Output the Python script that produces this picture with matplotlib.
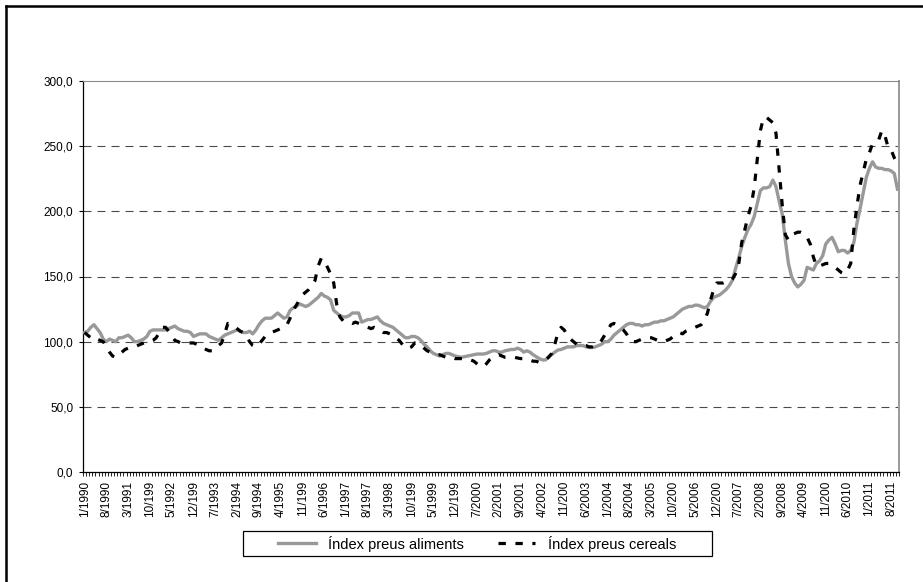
import matplotlib.pyplot as plt
from matplotlib.lines import Line2D
from matplotlib.patches import Rectangle
import numpy as np

plt.rcParams['font.family'] = ['Liberation Sans', 'DejaVu Sans']

# monthly index values, 1/1990 .. 10/2011
aliments = [
    107, 108, 111, 113, 110, 107, 102, 100, 102, 101, 100, 103,   # 1990
    103, 104, 105, 103, 100, 100, 101, 102, 104, 108, 109, 109,   # 1991
    109, 109, 109, 110, 111, 112, 110, 109, 108, 108, 107, 104,   # 1992
    105, 106, 106, 106, 104, 103, 102, 101, 103, 105, 106, 107,   # 1993
    108, 109, 108, 107, 107, 108, 106, 109, 113, 116, 118, 118,   # 1994
    118, 120, 122, 120, 118, 119, 124, 126, 127, 129, 128, 127,   # 1995
    128, 130, 132, 134, 137, 135, 134, 132, 124, 122, 120, 119,   # 1996
    119, 120, 122, 122, 122, 115, 116, 117, 117, 118, 119, 116,   # 1997
    114, 113, 112, 111, 109, 107, 105, 103, 103, 104, 104, 103,   # 1998
    101, 98, 96, 93, 91, 90, 89, 90, 91, 91, 90, 89,              # 1999
    88.5, 88, 88.5, 89, 89.5, 90, 90.5, 90.5, 90.5, 91, 92, 93,   # 2000
    93, 92, 92, 93, 93.5, 94, 94, 95, 94, 92, 93, 92,             # 2001
    90, 88.5, 87, 86, 86, 88.5, 90, 92, 93.6, 94, 95, 96,         # 2002
    96, 96, 97, 97, 97, 96, 95.5, 95.5, 96, 97, 98, 100,          # 2003
    100, 102, 105, 107, 109, 111, 113, 114, 114, 113, 113, 112,   # 2004
    113, 113, 114, 115, 115, 116, 116, 117, 118, 119, 121, 123,   # 2005
    125, 126, 127, 127, 128, 128, 127, 126, 127, 131, 134, 135,   # 2006
    136, 138, 140, 143, 147, 156, 164, 173, 180, 186, 190, 196,   # 2007
    206, 216, 218, 218, 219, 224, 219, 208, 198, 178, 160, 150,   # 2008
    145, 142, 144, 147, 157, 156, 155, 160, 162, 166, 175, 178,   # 2009
    180, 175, 169, 170, 170, 168, 170, 176, 191, 202, 214, 226,   # 2010
    233, 238, 234, 233, 233, 232, 232, 231, 229, 217,             # 2011
]

cereals = [
    107, 105, 103, 104, 102, 101, 100, 96, 92, 89, 88, 90,        # 1990
    92, 94, 95, 96, 96, 97, 98, 99, 100, 100, 101, 103,           # 1991
    107, 111, 111, 108, 104, 101, 100, 99, 99, 99, 99, 99,        # 1992
    98, 97, 95, 94, 93, 93, 94, 97, 99, 106, 114, 113,            # 1993
    112, 110, 108, 107, 104, 100, 97, 96, 98, 101, 104, 106,      # 1994
    107, 108, 109, 110, 111, 113, 118, 124, 128, 132, 136, 138,   # 1995
    140, 143, 147, 158, 164, 162, 157, 152, 145, 128, 119, 116,   # 1996
    115, 115, 114, 115, 114, 113, 112, 111, 110, 111, 110, 109,   # 1997
    107, 107, 106, 105, 103, 101, 98, 95, 95, 96, 99, 99,         # 1998
    97, 95, 93, 92, 91, 90, 90, 89, 88, 88, 88, 87,               # 1999
    87, 87, 87, 87, 86, 85, 83, 81, 81, 83, 86, 88,               # 2000
    89, 90, 89, 88, 88, 88, 88, 87.5, 87, 87, 86, 86,             # 2001
    85, 85, 84, 85, 86, 88, 91, 98, 107, 111, 109, 105,           # 2002
    102, 100, 98, 97, 97, 97, 96, 96, 97, 98, 101, 105,           # 2003
    109, 113, 114, 113, 111, 109, 106, 102, 100, 100, 101, 102,   # 2004
    102, 103, 103, 102, 101, 101, 100, 101, 102, 104, 105, 107,   # 2005
    106, 108, 109, 110, 111, 112, 113, 116, 122, 132, 140, 145,   # 2006
    145, 145, 146, 146, 148, 152, 159, 176, 186, 196, 204, 218,   # 2007
    240, 262, 272, 272, 270, 268, 260, 232, 205, 182, 178, 182,   # 2008
    183, 184, 184, 183, 180, 175, 165, 158, 158, 159, 160, 160,   # 2009
    158, 157, 155, 153, 152, 155, 160, 186, 204, 220, 230, 240,   # 2010
    245, 252, 253, 255, 262, 258, 249, 247, 241, 237,             # 2011
]

tick_labels = [
    '1/1990', '8/1990', '3/1991', '10/199', '5/1992', '12/199', '7/1993',
    '2/1994', '9/1994', '4/1995', '11/199', '6/1996', '1/1997', '8/1997',
    '3/1998', '10/199', '5/1999', '12/199', '7/2000', '2/2001', '9/2001',
    '4/2002', '11/200', '6/2003', '1/2004', '8/2004', '3/2005', '10/200',
    '5/2006', '12/200', '7/2007', '2/2008', '9/2008', '4/2009', '11/200',
    '6/2010', '1/2011', '8/2011',
]
y_ticks = [0, 50, 100, 150, 200, 250, 300]
y_labels = ['0,0', '50,0', '100,0', '150,0', '200,0', '250,0', '300,0']

W, H = 923, 582
fig = plt.figure(figsize=(W / 100, H / 100), dpi=100)
ax = fig.add_axes([83 / W, 1 - 472 / H, (899 - 83) / W, (472 - 81) / H])

n = len(aliments)
x = np.arange(n)

# dashed gridlines
for v in y_ticks[1:-1]:
    ax.axhline(v, color='#4a4a4a', lw=0.8, dashes=(7.2, 5.4), zorder=1)

ax.plot(x, aliments, color='#999999', lw=2.4, solid_joinstyle='round',
        label='Índex preus aliments', zorder=3)
ax.plot(x, cereals, color='black', lw=2.3, dashes=(2.3, 3.0),
        dash_capstyle='butt', label='Índex preus cereals', zorder=4)

ax.set_xlim(-0.5, n - 0.5)
ax.set_ylim(0, 300)

ax.set_yticks(y_ticks)
ax.set_yticklabels(y_labels, fontsize=8.5)
ax.tick_params(axis='y', length=3, width=0.8, pad=4, direction='out')

ax.set_xticks(np.arange(0, n, 7))
ax.set_xticklabels(tick_labels, rotation=90, fontsize=8.5)
ax.set_xticks(np.arange(-0.5, n, 1), minor=True)
ax.tick_params(axis='x', which='major', length=0, pad=6.5)
ax.tick_params(axis='x', which='minor', length=3, width=0.6, direction='out')

ax.spines['left'].set_color('black')
ax.spines['bottom'].set_color('black')
ax.spines['left'].set_linewidth(0.9)
ax.spines['bottom'].set_linewidth(0.9)
ax.spines['top'].set_color('#8a8a8a')
ax.spines['right'].set_color('#9a9a9a')
ax.spines['right'].set_linewidth(1.4)

# legend with its own box
handles, labels = ax.get_legend_handles_labels()
fig.legend(handles, labels, loc='center', ncol=2, frameon=False,
           bbox_to_anchor=(477 / W, 1 - 543.5 / H), fontsize=10.5,
           handlelength=2.6, handletextpad=0.85, columnspacing=2.3)
fig.patches.append(Rectangle((243 / W, 1 - 556 / H), 469 / W, 25.5 / H,
                             transform=fig.transFigure, fill=False,
                             edgecolor='black', lw=0.9))

# outer chart frame (only left and top edges are in view)
fig.add_artist(Line2D([5.5 / W, 5.5 / W], [0, 1 - 6 / H], color='black',
                      lw=1.8, transform=fig.transFigure))
fig.add_artist(Line2D([5.5 / W, 1], [1 - 6 / H, 1 - 6 / H], color='black',
                      lw=1.8, transform=fig.transFigure))

fig.savefig('out.png', dpi=100)
